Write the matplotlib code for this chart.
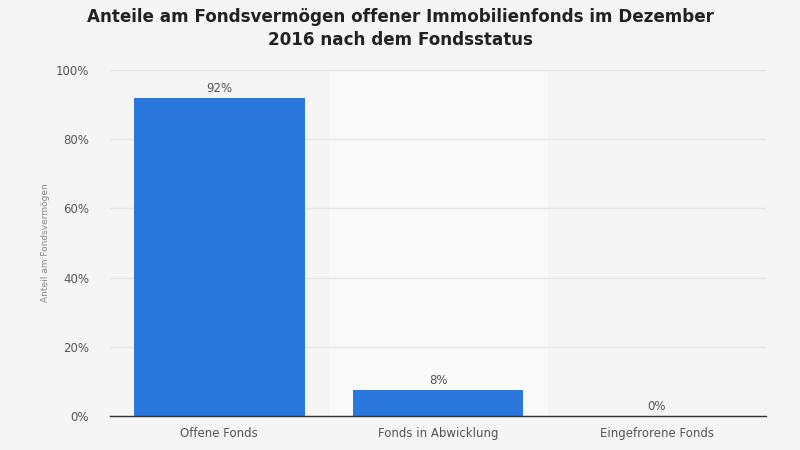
import matplotlib.pyplot as plt
import numpy as np

categories = ['Offene Fonds', 'Fonds in Abwicklung', 'Eingefrorene Fonds']
values = [92.0, 7.6, 0.0]
labels = ['92%', '8%', '0%']
yticks = [0, 20, 40, 60, 80, 100]

fig = plt.figure(figsize=(8, 4.5), dpi=100)
fig.patch.set_facecolor('#f5f5f5')
ax = fig.add_axes([0.1375, 0.076, 0.82, 0.768])
ax.set_facecolor('#f5f5f5')

x = np.arange(len(categories))
# alternating band behind middle category
for i in x:
    if i % 2 == 1:
        ax.axvspan(i - 0.5, i + 0.5, color='#f9f9f9', zorder=0)

ax.bar(x, values, width=0.78, color='#2a77dd', zorder=3)
for xi, v, lab in zip(x, values, labels):
    ax.text(xi, v + 0.8, lab, ha='center', va='bottom', fontsize=8.5, color='#555555', zorder=4)

ax.set_xlim(-0.5, 2.5)
ax.set_ylim(0, 100)
ax.set_yticks(yticks)
ax.set_yticklabels([f'{t}%' for t in yticks])
ax.yaxis.grid(True, color='#e6e6e6', linewidth=1, zorder=1)
ax.set_xticks(x)
ax.set_xticklabels(categories)
ax.tick_params(axis='both', length=0, labelsize=8.5, labelcolor='#555555')
ax.tick_params(axis='y', pad=15)
ax.tick_params(axis='x', pad=8)
for s in ['top', 'right', 'left']:
    ax.spines[s].set_visible(False)
ax.spines['bottom'].set_color('#333333')
ax.spines['bottom'].set_linewidth(1)
ax.spines['bottom'].set_zorder(5)
ax.set_ylabel('Anteil am Fondsvermögen', fontsize=6.5, color='#888888', labelpad=4)

fig.text(0.5, 0.982, 'Anteile am Fondsvermögen offener Immobilienfonds im Dezember\n2016 nach dem Fondsstatus',
         ha='center', va='top', fontsize=12.1, fontweight='bold', color='#222222', linespacing=1.35)

fig.savefig('out.png', dpi=100, facecolor=fig.get_facecolor())
